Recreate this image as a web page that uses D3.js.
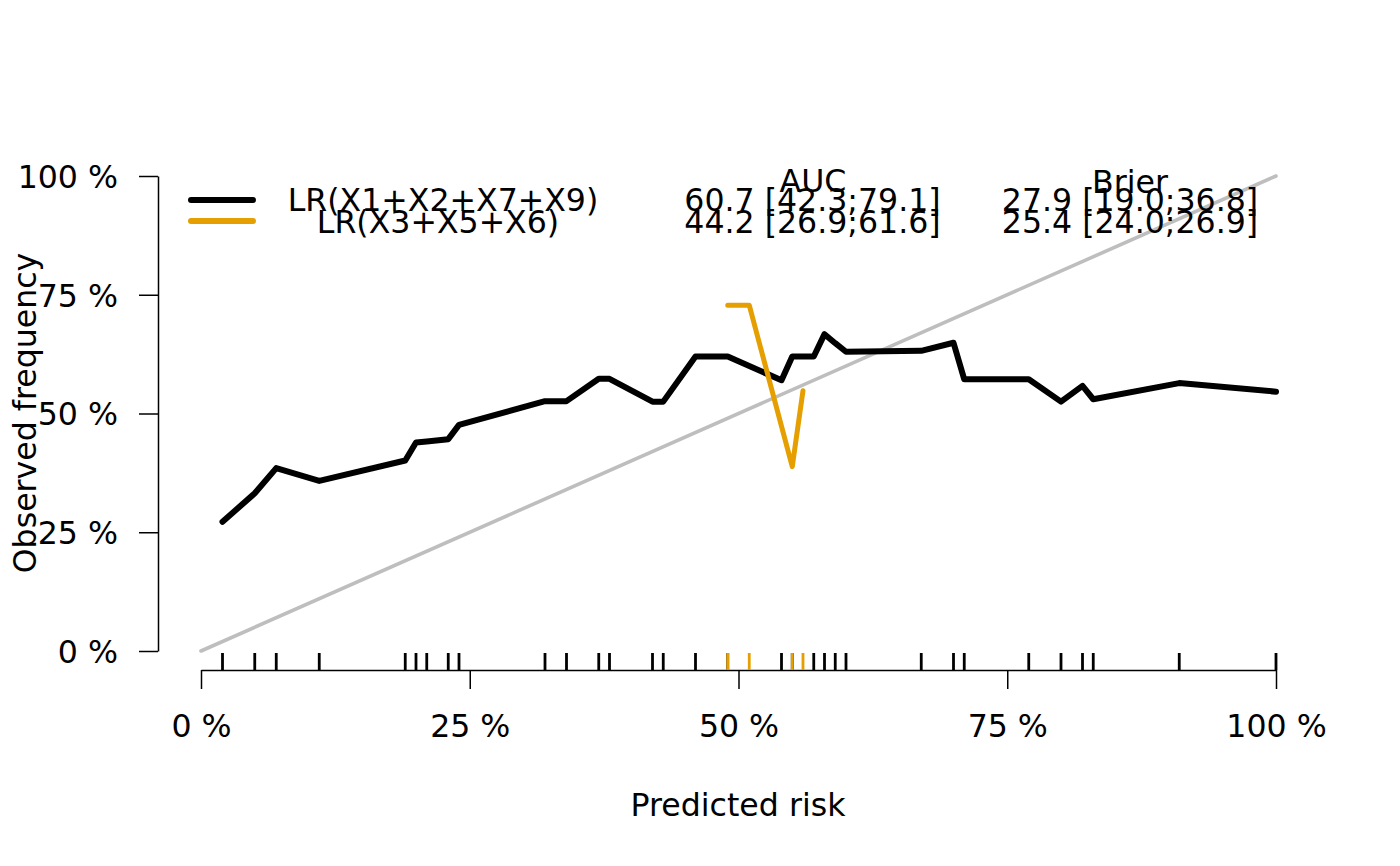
<!DOCTYPE html>
<html>
<head>
<meta charset="utf-8">
<script src="https://cdn.jsdelivr.net/npm/d3@7"></script>
<style>
  html, body { margin: 0; padding: 0; background: #fff; }
  svg { display: block; font-family: "DejaVu Sans", sans-serif; }
</style>
</head>
<body>
<svg id="chart" width="1400" height="866"></svg>
<script>
// ---- data ----
const seriesNames = ["LR(X1+X2+X7+X9)", "LR(X3+X5+X6)"];
const seriesColors = ["#000000", "#E69F00"];
const aucLabels = ["60.7 [42.3;79.1]", "44.2 [26.9;61.6]"];
const brierLabels = ["27.9 [19.0;36.8]", "25.4 [24.0;26.9]"];

const blackX = [2, 5, 7, 11, 19, 20, 21, 23, 24, 32, 34, 37, 38, 42, 43, 46, 49, 54, 55, 57, 58, 59, 60, 67, 70, 71, 77, 80, 82, 83, 91, 100];
const blackY = [27.2, 33.2, 38.5, 35.8, 40.1, 43.9, 44.1, 44.6, 47.6, 52.6, 52.6, 57.3, 57.3, 52.5, 52.5, 62.0, 62.0, 57.0, 62.0, 62.0, 66.7, 64.8, 63.0, 63.2, 64.9, 57.2, 57.2, 52.5, 55.8, 53.0, 56.4, 54.6];

const orangeX = [49, 51, 55, 56];
const orangeY = [72.8, 72.8, 38.8, 54.8];

const tickValues = [0, 25, 50, 75, 100];
const tickLabels = ["0 %", "25 %", "50 %", "75 %", "100 %"];

// ---- drawing ----
const svg = d3.select("#chart");
const FS = 31.6;

const x = d3.scaleLinear().domain([0, 100]).range([201, 1276]);
const y = d3.scaleLinear().domain([0, 100]).range([651, 176]);

// diagonal reference
svg.append("line")
  .attr("x1", x(0)).attr("y1", y(0))
  .attr("x2", x(100)).attr("y2", y(100))
  .attr("stroke", "#BEBEBE").attr("stroke-width", 3.6)
  .attr("stroke-linecap", "round");

// y axis
const yAxis = d3.axisLeft(y)
  .tickValues(tickValues)
  .tickFormat((d, i) => tickLabels[i])
  .tickSize(19).tickSizeOuter(0).tickPadding(21);
const gy = svg.append("g").attr("transform", "translate(158,0)").call(yAxis);
gy.selectAll("text").attr("font-size", FS).attr("font-family", "DejaVu Sans").attr("fill", "#000").attr("dy", "0.36em");
gy.selectAll("line, path").attr("stroke", "#000").attr("stroke-width", 1.5);

// x axis
const xAxis = d3.axisBottom(x)
  .tickValues(tickValues)
  .tickFormat((d, i) => tickLabels[i])
  .tickSize(19).tickSizeOuter(0).tickPadding(26);
const gx = svg.append("g").attr("transform", "translate(0,670)").call(xAxis);
gx.selectAll("text").attr("font-size", FS).attr("font-family", "DejaVu Sans").attr("fill", "#000");
gx.selectAll("line, path").attr("stroke", "#000").attr("stroke-width", 1.5);

// axis titles
svg.append("text")
  .attr("x", 738).attr("y", 816)
  .attr("text-anchor", "middle").attr("font-size", FS)
  .text("Predicted risk");
svg.append("text")
  .attr("transform", "translate(36,413) rotate(-90)")
  .attr("text-anchor", "middle").attr("font-size", FS)
  .text("Observed frequency");

// rug ticks
function rug(xs, color) {
  svg.append("g").selectAll("line").data(xs).join("line")
    .attr("x1", d => x(d)).attr("x2", d => x(d))
    .attr("y1", 670).attr("y2", 653)
    .attr("stroke", color).attr("stroke-width", 2.8);
}
rug(blackX, seriesColors[0]);
rug(orangeX, seriesColors[1]);

// calibration lines
const line = d3.line().x(d => x(d[0])).y(d => y(d[1]));
svg.append("path")
  .datum(blackX.map((v, i) => [v, blackY[i]]))
  .attr("d", line).attr("fill", "none")
  .attr("stroke", seriesColors[0]).attr("stroke-width", 6)
  .attr("stroke-linejoin", "round").attr("stroke-linecap", "round");
svg.append("path")
  .datum(orangeX.map((v, i) => [v, orangeY[i]]))
  .attr("d", line).attr("fill", "none")
  .attr("stroke", seriesColors[1]).attr("stroke-width", 5)
  .attr("stroke-linejoin", "round").attr("stroke-linecap", "round");

// legend
const legY = [200, 221];
const legTextY = [211, 233];
const nameCx = [443, 438];
seriesNames.forEach((name, i) => {
  svg.append("line")
    .attr("x1", 191).attr("x2", 253)
    .attr("y1", legY[i]).attr("y2", legY[i])
    .attr("stroke", seriesColors[i]).attr("stroke-width", 6)
    .attr("stroke-linecap", "round");
  svg.append("text")
    .attr("x", nameCx[i]).attr("y", legTextY[i])
    .attr("text-anchor", "middle").attr("font-size", FS)
    .text(name);
  svg.append("text")
    .attr("x", 812.5).attr("y", legTextY[i])
    .attr("text-anchor", "middle").attr("font-size", FS)
    .text(aucLabels[i]);
  svg.append("text")
    .attr("x", 1130).attr("y", legTextY[i])
    .attr("text-anchor", "middle").attr("font-size", FS)
    .text(brierLabels[i]);
});
svg.append("text")
  .attr("x", 813).attr("y", 192)
  .attr("text-anchor", "middle").attr("font-size", FS)
  .text("AUC");
svg.append("text")
  .attr("x", 1130).attr("y", 193)
  .attr("text-anchor", "middle").attr("font-size", FS)
  .text("Brier");
</script>
</body>
</html>
